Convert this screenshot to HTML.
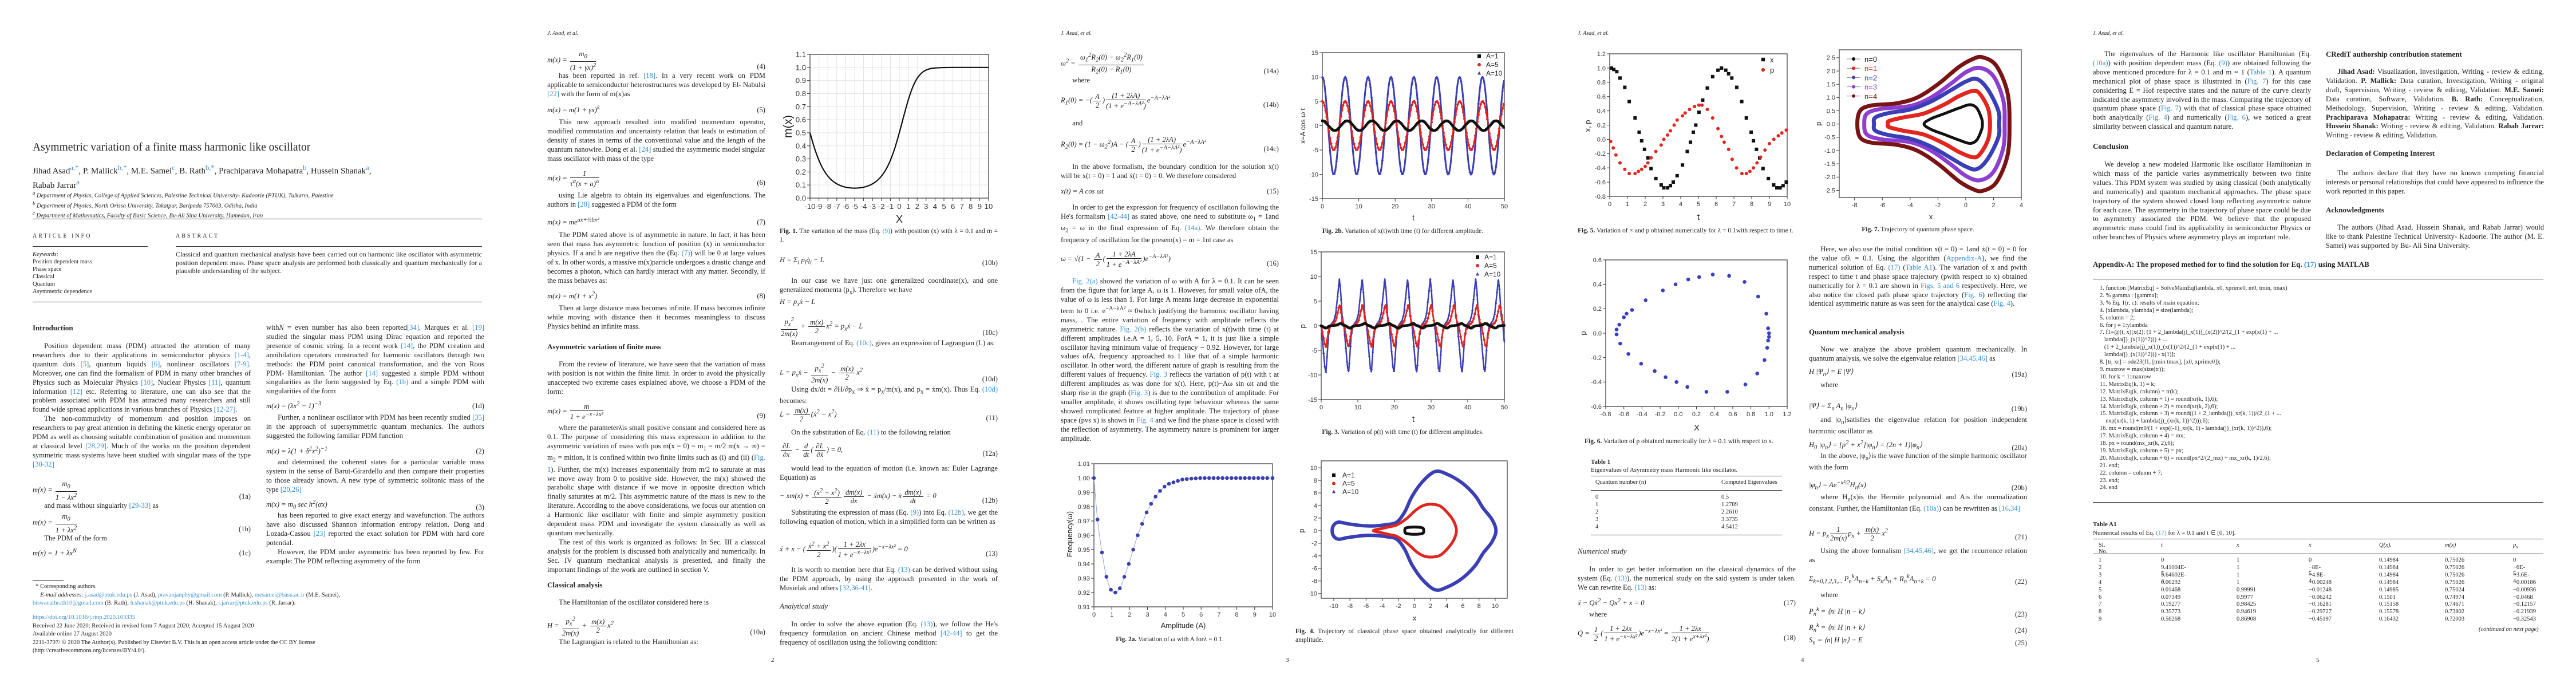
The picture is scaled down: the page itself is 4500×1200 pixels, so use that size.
<!DOCTYPE html>
<html><head><meta charset="utf-8"><title>Asymmetric variation of a finite mass harmonic like oscillator</title>
<style>
html,body{margin:0;padding:0;background:#fff;}
body{width:4500px;height:1200px;position:relative;overflow:hidden;font-family:"Liberation Serif",serif;color:#222;}
.a{position:absolute;}
.c{position:absolute;width:381px;font-size:12.6px;line-height:15.9px;text-align:justify;}
.c p{margin:0;text-indent:1.6em;}
.eq{position:absolute;width:381px;display:flex;justify-content:space-between;align-items:flex-end;font-size:12.6px;line-height:15.9px;font-style:italic;}
.eq .n{font-style:normal;}
.fr{display:inline-flex;flex-direction:column;vertical-align:middle;text-align:center;line-height:14px;margin:0 2px;}
.fr>span:first-child{border-bottom:1px solid #222;padding:0 3px;}
.h{position:absolute;font-weight:bold;font-size:13px;}
.hdr{position:absolute;top:53px;font-style:italic;font-size:10px;}
.cap{position:absolute;font-size:11.5px;line-height:14.5px;width:381px;text-align:justify;}
.lk{color:#3a8fcf;}
.pn{position:absolute;top:1147px;font-size:11px;}
.code{position:absolute;font-size:10.5px;line-height:12.9px;white-space:pre;}
.tb{position:absolute;font-size:10.5px;}
.rule{position:absolute;height:0;border-top:1px solid #333;}
svg text{font-family:"Liberation Sans",sans-serif;}
</style></head><body>

<!-- ============ PAGE 1 ============ -->
<div class="a" style="left:57px;top:247px;font-size:19.5px;">Asymmetric variation of a finite mass harmonic like oscillator</div>
<div class="a" style="left:57px;top:284px;font-size:15px;line-height:19px;width:790px;">Jihad Asad<sup class="lk">a,*</sup>, P. Mallick<sup class="lk">b,*</sup>, M.E. Samei<sup class="lk">c</sup>, B. Rath<sup class="lk">b,*</sup>, Prachiparava Mohapatra<sup class="lk">b</sup>, Hussein Shanak<sup class="lk">a</sup>,<br>Rabab Jarrar<sup class="lk">a</sup></div>
<div class="a" style="left:57px;top:331px;font-size:10.5px;line-height:13px;font-style:italic;">
<sup>a</sup> Department of Physics, College of Applied Sciences, Palestine Technical University- Kadoorie (PTUK), Tulkarm, Palestine<br>
<sup>b</sup> Department of Physics, North Orissa University, Takatpur, Baripada 757003, Odisha, India<br>
<sup>c</sup> Department of Mathematics, Faculty of Basic Science, Bu-Ali Sina University, Hamedan, Iran</div>
<div class="rule" style="left:57px;top:382px;width:785px;border-top-width:1.5px;"></div>
<div class="a" style="left:57px;top:407px;font-size:10px;letter-spacing:3px;">ARTICLE INFO</div>
<div class="a" style="left:307px;top:407px;font-size:10px;letter-spacing:3px;">ABSTRACT</div>
<div class="rule" style="left:57px;top:430px;width:201px;"></div>
<div class="rule" style="left:307px;top:430px;width:535px;"></div>
<div class="a" style="left:57px;top:438px;font-size:10.5px;line-height:13px;"><i>Keywords:</i><br>Position dependent mass<br>Phase space<br>Classical<br>Quantum<br>Asymmetric dependence</div>
<div class="a" style="left:307px;top:437px;width:535px;font-size:12px;line-height:14.5px;text-align:justify;">Classical and quantum mechanical analysis have been carried out on harmonic like oscillator with asymmetric position dependent mass. Phase space analysis are performed both classically and quantum mechanically for a plausible understanding of the subject.</div>
<div class="rule" style="left:57px;top:527px;width:785px;"></div>
<div class="h" style="left:57px;top:565px;">Introduction</div>
<div class="c" style="left:57px;top:597px;"><p>Position dependent mass (PDM) attracted the attention of many researchers due to their applications in semiconductor physics <span class="lk">[1-4]</span>, quantum dots <span class="lk">[5]</span>, quantum liquids <span class="lk">[6]</span>, nonlinear oscillators <span class="lk">[7-9]</span>. Moreover, one can find the formalism of PDM in many other branches of Physics such as Molecular Physics <span class="lk">[10]</span>, Nuclear Physics <span class="lk">[11]</span>, quantum information <span class="lk">[12]</span> etc. Referring to literature, one can also see that the problem associated with PDM has attracted many researchers and still found wide spread applications in various branches of Physics <span class="lk">[12-27]</span>.</p><p>The non-commutivity of momentum and position imposes on researchers to pay great attention in defining the kinetic energy operator on PDM as well as choosing suitable combination of position and momentum at classical level <span class="lk">[28,29]</span>. Much of the works on the position dependent symmetric mass systems have been studied with singular mass of the type <span class="lk">[30-32]</span></p></div>
<div class="eq" style="left:57px;top:838px;"><span>m(x) = <span class="fr"><span>m<sub>0</sub></span><span>1 − λx<sup>2</sup></span></span></span><span class="n">(1a)</span></div>
<div class="c" style="left:57px;top:876px;"><p>and mass without singularity <span class="lk">[29-33]</span> as</p></div>
<div class="eq" style="left:57px;top:895px;"><span>m(x) = <span class="fr"><span>m<sub>0</sub></span><span>1 + λx<sup>2</sup></span></span></span><span class="n">(1b)</span></div>
<div class="c" style="left:57px;top:933px;"><p>The PDM of the form</p></div>
<div class="eq" style="left:57px;top:955px;"><span>m(x) = 1 + λx<sup>N</sup></span><span class="n">(1c)</span></div>
<div class="rule" style="left:57px;top:1013px;width:54px;"></div>
<div class="a" style="left:57px;top:1018px;font-size:10.5px;line-height:14.6px;width:800px;">&nbsp;&nbsp;* Corresponding authors.<br>&nbsp;&nbsp;&nbsp;&nbsp;&nbsp;<i>E-mail addresses:</i> <span class="lk">j.asad@ptuk.edu.ps</span> (J. Asad), <span class="lk">pravanjanphy@gmail.com</span> (P. Mallick), <span class="lk">mesamei@basu.ac.ir</span> (M.E. Samei),<br><span class="lk">biswanathrath10@gmail.com</span> (B. Rath), <span class="lk">h.shanak@ptuk.edu.ps</span> (H. Shanak), <span class="lk">r.jarrar@ptuk.edu.ps</span> (R. Jarrar).</div>
<div class="a" style="left:57px;top:1072px;font-size:10.5px;line-height:14.6px;width:800px;"><span class="lk">https://doi.org/10.1016/j.rinp.2020.103335</span><br>Received 22 June 2020; Received in revised form 7 August 2020; Accepted 15 August 2020<br>Available online 27 August 2020<br>2211-3797/ © 2020 The Author(s). Published by Elsevier B.V. This is an open access article under the CC BY license<br>(http://creativecommons.org/licenses/BY/4.0/).</div>

<div class="c" style="left:465px;top:565px;">with<i>N</i> = even number has also been reported<span class="lk">[34]</span>. Marques et al. <span class="lk">[19]</span> studied the singular mass PDM using Dirac equation and reported the presence of cosmic string. In a recent work <span class="lk">[14]</span>, the PDM creation and annihilation operators constructed for harmonic oscillators through two methods: the PDM point canonical transformation, and the von Roos PDM- Hamiltonian. The author <span class="lk">[14]</span> suggested a simple PDM without singularities as the form suggested by Eq. <span class="lk">(1b)</span> and a simple PDM with singularities of the form</div>
<div class="eq" style="left:465px;top:698px;"><span>m(x) = (λx<sup>2</sup> − 1)<sup>−3</sup></span><span class="n">(1d)</span></div>
<div class="c" style="left:465px;top:722px;"><p>Further, a nonlinear oscillator with PDM has been recently studied <span class="lk">[35]</span> in the approach of supersymmetric quantum mechanics. The authors suggested the following familiar PDM function</p></div>
<div class="eq" style="left:465px;top:777px;"><span>m(x) = λ(1 + δ<sup>2</sup>x<sup>2</sup>)<sup>−1</sup></span><span class="n">(2)</span></div>
<div class="c" style="left:465px;top:800px;"><p>and determined the coherent states for a particular variable mass system in the sense of Barut-Girardello and then compare their properties to those already known. A new type of symmetric solitonic mass of the type <span class="lk">[20,26]</span></p></div>
<div class="eq" style="left:465px;top:870px;"><span>m(x) = m<sub>0</sub> sec h<sup>2</sup>(αx)</span><span class="n">(3)</span></div>
<div class="c" style="left:465px;top:893px;"><p>has been reported to give exact energy and wavefunction. The authors have also discussed Shannon information entropy relation. Dong and Lozada-Cassou <span class="lk">[23]</span> reported the exact solution for PDM with hard core potential.</p><p>However, the PDM under asymmetric has been reported by few. For example: The PDM reflecting asymmetry of the form</p></div>

<!-- ============ PAGE 2 ============ -->
<div class="hdr" style="left:956px;">J. Asad, et al.</div>
<div class="eq" style="left:956px;top:87px;"><span>m(x) = <span class="fr"><span>m<sub>0</sub></span><span>(1 + γx)<sup>2</sup></span></span></span><span class="n">(4)</span></div>
<div class="c" style="left:956px;top:125px;"><p>has been reported in ref. <span class="lk">[18]</span>. In a very recent work on PDM applicable to semiconductor heterostructures was developed by El- Nabulsi <span class="lk">[22]</span> with the form of m(x)as</p></div>
<div class="eq" style="left:956px;top:181px;"><span>m(x) = m(1 + γx)<sup>k</sup></span><span class="n">(5)</span></div>
<div class="c" style="left:956px;top:206px;"><p>This new approach resulted into modified momentum operator, modified commutation and uncertainty relation that leads to estimation of density of states in terms of the conventional value and the length of the quantum nanowire. Dong et al. <span class="lk">[24]</span> studied the asymmetric model singular mass oscillator with mass of the type</p></div>
<div class="eq" style="left:956px;top:296px;"><span>m(x) = <span class="fr"><span>1</span><span>τ<sup>α</sup>(x + a)<sup>α</sup></span></span></span><span class="n">(6)</span></div>
<div class="c" style="left:956px;top:334px;"><p>using Lie algebra to obtain its eigenvalues and eigenfunctions. The authors in <span class="lk">[28]</span> suggested a PDM of the form</p></div>
<div class="eq" style="left:956px;top:377px;"><span>m(x) = me<sup>ax+½bx²</sup></span><span class="n">(7)</span></div>
<div class="c" style="left:956px;top:403px;"><p>The PDM stated above is of asymmetric in nature. In fact, it has been seen that mass has asymmetric function of position (x) in semiconductor physics. If a and b are negative then the (Eq. <span class="lk">(7)</span>) will be 0 at large values of x. In other words, a massive m(x)particle undergoes a drastic change and becomes a photon, which can hardly interact with any matter. Secondly, if the mass behaves as:</p></div>
<div class="eq" style="left:956px;top:506px;"><span>m(x) = m(1 + x<sup>2</sup>)</span><span class="n">(8)</span></div>
<div class="c" style="left:956px;top:531px;"><p>Then at large distance mass becomes infinite. If mass becomes infinite while moving with distance then it becomes meaningless to discuss Physics behind an infinite mass.</p></div>
<div class="h" style="left:956px;top:598px;">Asymmetric variation of finite mass</div>
<div class="c" style="left:956px;top:629px;"><p>From the review of literature, we have seen that the variation of mass with position is not within the finite limit. In order to avoid the physically unaccepted two extreme cases explained above, we choose a PDM of the form:</p></div>
<div class="eq" style="left:956px;top:703px;"><span>m(x) = <span class="fr"><span>m</span><span>1 + e<sup>−x−λx²</sup></span></span></span><span class="n">(9)</span></div>
<div class="c" style="left:956px;top:740px;"><p>where the parameterλis small positive constant and considered here as 0.1. The purpose of considering this mass expression in addition to the asymmetric variation of mass with pos m(x = 0) = m<sub>1</sub> = m/2 m(x → ∞) = m<sub>2</sub> = mition, it is confined within two finite limits such as (i) and (ii) (<span class="lk">Fig. 1</span>). Further, the m(x) increases exponentially from m/2 to saturate at mas we move away from 0 to positive side. However, the m(x) showed the parabolic shape with distance if we move in opposite direction which finally saturates at m/2. This asymmetric nature of the mass is new to the literature. According to the above considerations, we focus our attention on a Harmonic like oscillator with finite and simple asymmetry position dependent mass PDM and investigate the system classically as well as quantum mechanically.</p><p>The rest of this work is organized as follows: In Sec. III a classical analysis for the problem is discussed both analytically and numerically. In Sec. IV quantum mechanical analysis is presented, and finally the important findings of the work are outlined in section V.</p></div>
<div class="h" style="left:956px;top:1014px;">Classical analysis</div>
<div class="c" style="left:956px;top:1045px;"><p>The Hamiltonian of the oscillator considered here is</p></div>
<div class="eq" style="left:956px;top:1075px;"><span>H = <span class="fr"><span>p<sub>x</sub><sup>2</sup></span><span>2m(x)</span></span> + <span class="fr"><span>m(x)</span><span>2</span></span>x<sup>2</sup></span><span class="n">(10a)</span></div>
<div class="c" style="left:956px;top:1114px;"><p>The Lagrangian is related to the Hamiltonian as:</p></div>

<div class="cap" style="left:1362px;top:397px;"><b>Fig. 1.</b> The variation of the mass (Eq. <span class="lk">(9)</span>) with position (x) with λ = 0.1 and m = 1.</div>
<div class="eq" style="left:1362px;top:447px;"><span>H = Σ<sub>i</sub> p<sub>i</sub>q̇<sub>i</sub> − L</span><span class="n">(10b)</span></div>
<div class="c" style="left:1362px;top:483px;"><p>In our case we have just one generalized coordinate(x), and one generalized momenta (p<sub>x</sub>). Therefore we have</p></div>
<div class="eq" style="left:1362px;top:520px;"><span>H = p<sub>x</sub>ẋ − L</span><span></span></div>
<div class="eq" style="left:1362px;top:552px;"><span><span class="fr"><span>p<sub>x</sub><sup>2</sup></span><span>2m(x)</span></span> + <span class="fr"><span>m(x)</span><span>2</span></span>x<sup>2</sup> = p<sub>x</sub>ẋ − L</span><span class="n">(10c)</span></div>
<div class="c" style="left:1362px;top:592px;"><p>Rearrangement of Eq. <span class="lk">(10c)</span>, gives an expression of Lagrangian (L) as:</p></div>
<div class="eq" style="left:1362px;top:633px;"><span>L = p<sub>x</sub>ẋ − <span class="fr"><span>p<sub>x</sub><sup>2</sup></span><span>2m(x)</span></span> − <span class="fr"><span>m(x)</span><span>2</span></span>x<sup>2</sup></span><span class="n">(10d)</span></div>
<div class="c" style="left:1362px;top:673px;"><p>Using dx/dt = ∂H/∂p<sub>x</sub> ⇒ ẋ = p<sub>x</sub>/m(x), and p<sub>x</sub> = ẋm(x). Thus Eq. <span class="lk">(10d)</span> becomes:</p></div>
<div class="eq" style="left:1362px;top:710px;"><span>L = <span class="fr"><span>m(x)</span><span>2</span></span>(ẋ<sup>2</sup> − x<sup>2</sup>)</span><span class="n">(11)</span></div>
<div class="c" style="left:1362px;top:748px;"><p>On the substitution of Eq. <span class="lk">(11)</span> to the following relation</p></div>
<div class="eq" style="left:1362px;top:772px;"><span><span class="fr"><span>∂L</span><span>∂x</span></span> − <span class="fr"><span>d</span><span>dt</span></span>(<span class="fr"><span>∂L</span><span>∂ẋ</span></span>) = 0,</span><span class="n">(12a)</span></div>
<div class="c" style="left:1362px;top:811px;"><p>would lead to the equation of motion (i.e. known as: Euler Lagrange Equation) as</p></div>
<div class="eq" style="left:1362px;top:851px;"><span>− xm(x) + <span class="fr"><span>(ẋ<sup>2</sup> − x<sup>2</sup>)</span><span>2</span></span><span class="fr"><span>dm(x)</span><span>dx</span></span> − ẍm(x) − ẋ<span class="fr"><span>dm(x)</span><span>dt</span></span> = 0</span><span class="n">(12b)</span></div>
<div class="c" style="left:1362px;top:888px;"><p>Substituting the expression of mass (Eq. <span class="lk">(9)</span>) into Eq. <span class="lk">(12b)</span>, we get the following equation of motion, which in a simplified form can be written as</p></div>
<div class="eq" style="left:1362px;top:944px;"><span>ẍ + x − (<span class="fr"><span>ẋ<sup>2</sup> + x<sup>2</sup></span><span>2</span></span>)(<span class="fr"><span>1 + 2λx</span><span>1 + e<sup>−x−λx²</sup></span></span>)e<sup>−x−λx²</sup> = 0</span><span class="n">(13)</span></div>
<div class="c" style="left:1362px;top:988px;"><p>It is worth to mention here that Eq. <span class="lk">(13)</span> can be derived without using the PDM approach, by using the approach presented in the work of Musielak and others <span class="lk">[32,36-41]</span>.</p></div>
<div class="a" style="left:1362px;top:1051px;font-style:italic;font-size:13px;">Analytical study</div>
<div class="c" style="left:1362px;top:1083px;"><p>In order to solve the above equation (Eq. <span class="lk">(13)</span>), we follow the He's frequency formulation on ancient Chinese method <span class="lk">[42-44]</span> to get the frequency of oscillation using the following condition:</p></div>
<div class="pn" style="left:1347px;">2</div>

<!-- ============ PAGE 3 ============ -->
<div class="hdr" style="left:1853px;">J. Asad, et al.</div>
<div class="eq" style="left:1853px;top:90px;"><span>ω<sup>2</sup> = <span class="fr"><span>ω<sub>1</sub><sup>2</sup>R<sub>2</sub>(0) − ω<sub>2</sub><sup>2</sup>R<sub>1</sub>(0)</span><span>R<sub>2</sub>(0) − R<sub>1</sub>(0)</span></span></span><span class="n">(14a)</span></div>
<div class="c" style="left:1853px;top:133px;"><p>where</p></div>
<div class="eq" style="left:1853px;top:160px;"><span>R<sub>1</sub>(0) = −(<span class="fr"><span>A</span><span>2</span></span>)<span class="fr"><span>(1 + 2λA)</span><span>(1 + e<sup>−A−λA²</sup>)</span></span>e<sup>−A−λA²</sup></span><span class="n">(14b)</span></div>
<div class="c" style="left:1853px;top:208px;"><p>and</p></div>
<div class="eq" style="left:1853px;top:237px;"><span>R<sub>2</sub>(0) = (1 − ω<sub>2</sub><sup>2</sup>)A − (<span class="fr"><span>A</span><span>2</span></span>)<span class="fr"><span>(1 + 2λA)</span><span>(1 + e<sup>−A−λA²</sup>)</span></span>e<sup>−A−λA²</sup></span><span class="n">(14c)</span></div>
<div class="c" style="left:1853px;top:284px;"><p>In the above formalism, the boundary condition for the solution x(t) will be x(t = 0) = 1 and ẋ(t = 0) = 0. We therefore considered</p></div>
<div class="eq" style="left:1853px;top:327px;"><span>x(t) = A cos ωt</span><span class="n">(15)</span></div>
<div class="c" style="left:1853px;top:355px;"><p>In order to get the expression for frequency of oscillation following the He's formalism <span class="lk">[42-44]</span> as stated above, one need to substitute ω<sub>1</sub> = 1and ω<sub>2</sub> = ω in the final expression of Eq. <span class="lk">(14a)</span>. We therefore obtain the frequency of oscillation for the presem(x) = m = 1nt case as</p></div>
<div class="eq" style="left:1853px;top:437px;"><span>ω = √(1 − <span class="fr"><span>A</span><span>2</span></span>(<span class="fr"><span>1 + 2λA</span><span>1 + e<sup>−A−λA²</sup></span></span>)e<sup>−A−λA²</sup>)</span><span class="n">(16)</span></div>
<div class="c" style="left:1853px;top:484px;"><p><span class="lk">Fig. 2(a)</span> showed the variation of ω with A for λ = 0.1. It can be seen from the figure that for large A, ω is 1. However, for small value ofA, the value of ω is less than 1. For large A means large decrease in exponential term to 0 i.e. e<sup>−A−λA²</sup> ≈ 0which justifying the harmonic oscillator having mass, . The entire variation of frequency with amplitude reflects the asymmetric nature. <span class="lk">Fig. 2(b)</span> reflects the variation of x(t)with time (t) at different amplitudes i.e.A = 1, 5, 10. ForA = 1, it is just like a simple oscillator having minimum value of frequency ~ 0.92. However, for large values ofA, frequency approached to 1 like that of a simple harmonic oscillator. In other word, the different nature of graph is resulting from the different values of frequency. <span class="lk">Fig. 3</span> reflects the variation of p(t) with t at different amplitudes as was done for x(t). Here, p(t)~Aω sin ωt and the sharp rise in the graph (<span class="lk">Fig. 3</span>) is due to the contribution of amplitude. For smaller amplitude, it shows oscillating type behaviour whereas the same showed complicated feature at higher amplitude. The trajectory of phase space (pvs x) is shown in <span class="lk">Fig. 4</span> and we find the phase space is closed with the reflection of asymmetry. The asymmetry nature is prominent for larger amplitude.</p></div>
<div class="cap" style="left:1853px;top:1110px;text-align:center;"><b>Fig. 2a.</b> Variation of ω with A forλ = 0.1.</div>
<div class="cap" style="left:2260px;top:397px;text-align:center;"><b>Fig. 2b.</b> Variation of x(t)with time (t) for different amplitude.</div>
<div class="cap" style="left:2260px;top:748px;text-align:center;"><b>Fig. 3.</b> Variation of p(t) with time (t) for different amplitudes.</div>
<div class="cap" style="left:2263px;top:1096px;"><b>Fig. 4.</b> Trajectory of classical phase space obtained analytically for different amplitude.</div>
<div class="pn" style="left:2246px;">3</div>

<!-- ============ PAGE 4 ============ -->
<div class="hdr" style="left:2756px;">J. Asad, et al.</div>
<div class="cap" style="left:2756px;top:396px;"><b>Fig. 5.</b> Variation of × and p obtained numerically for λ = 0.1with respect to time t.</div>
<div class="cap" style="left:2768px;top:764px;"><b>Fig. 6.</b> Variation of p obtained numerically for λ = 0.1 with respect to x.</div>
<div class="a" style="left:2779px;top:800px;font-size:11px;line-height:14px;"><b>Table 1</b><br>Eigenvalues of Asymmetry mass Harmonic like oscillator.</div>
<div class="rule" style="left:2779px;top:831px;width:334px;border-top-width:1.5px;"></div>
<div class="tb" style="left:2787px;top:837px;">Quantum number (n)</div>
<div class="tb" style="left:3007px;top:837px;">Computed Eigenvalues</div>
<div class="rule" style="left:2779px;top:856px;width:334px;"></div>
<div class="tb" style="left:2787px;top:862px;line-height:13px;">0<br>1<br>2<br>3<br>4</div>
<div class="tb" style="left:3007px;top:862px;line-height:13px;">0.5<br>1.2789<br>2.2610<br>3.3735<br>4.5412</div>
<div class="rule" style="left:2779px;top:934px;width:334px;"></div>
<div class="a" style="left:2756px;top:955px;font-style:italic;font-size:13px;">Numerical study</div>
<div class="c" style="left:2756px;top:987px;"><p>In order to get better information on the classical dynamics of the system (Eq. <span class="lk">(13)</span>), the numerical study on the said system is under taken. We can rewrite Eq. <span class="lk">(13)</span> as:</p></div>
<div class="eq" style="left:2756px;top:1042px;"><span>ẍ − Qẋ<sup>2</sup> − Qx<sup>2</sup> + x = 0</span><span class="n">(17)</span></div>
<div class="c" style="left:2756px;top:1066px;"><p>where</p></div>
<div class="eq" style="left:2756px;top:1091px;"><span>Q = <span class="fr"><span>1</span><span>2</span></span>(<span class="fr"><span>1 + 2λx</span><span>1 + e<sup>−x−λx²</sup></span></span>)e<sup>−x−λx²</sup> = <span class="fr"><span>1 + 2λx</span><span>2(1 + e<sup>x+λx²</sup>)</span></span></span><span class="n">(18)</span></div>
<div class="cap" style="left:3160px;top:394px;text-align:center;"><b>Fig. 7.</b> Trajectory of quantum phase space.</div>
<div class="c" style="left:3160px;top:428px;"><p>Here, we also use the initial condition x(t = 0) = 1and ẋ(t = 0) = 0 for the value ofλ = 0.1. Using the algorithm (<span class="lk">Appendix-A</span>), we find the numerical solution of Eq. <span class="lk">(17)</span> (<span class="lk">Table A1</span>). The variation of x and pwith respect to time t and phase space trajectory (pwith respect to x) obtained numerically for λ = 0.1 are shown in <span class="lk">Figs. 5 and 6</span> respectively. Here, we also notice the closed path phase space trajectory (<span class="lk">Fig. 6</span>) reflecting the identical asymmetric nature as was seen for the analytical case (<span class="lk">Fig. 4</span>).</p></div>
<div class="h" style="left:3160px;top:572px;">Quantum mechanical analysis</div>
<div class="c" style="left:3160px;top:603px;"><p>Now we analyze the above problem quantum mechanically. In quantum analysis, we solve the eigenvalue relation <span class="lk">[34,45,46]</span> as</p></div>
<div class="eq" style="left:3160px;top:642px;"><span>H |Ψ<sub>n</sub>⟩ = E |Ψ⟩</span><span class="n">(19a)</span></div>
<div class="c" style="left:3160px;top:665px;"><p>where</p></div>
<div class="eq" style="left:3160px;top:702px;"><span>|Ψ⟩ = Σ<sub>n</sub> A<sub>n</sub> |φ<sub>n</sub>⟩</span><span class="n">(19b)</span></div>
<div class="c" style="left:3160px;top:726px;"><p>and |φ<sub>n</sub>⟩satisfies the eigenvalue relation for position independent harmonic oscillator as</p></div>
<div class="eq" style="left:3160px;top:766px;"><span>H<sub>0</sub> |φ<sub>n</sub>⟩ = [p<sup>2</sup> + x<sup>2</sup>]|φ<sub>n</sub>⟩ = (2n + 1)|φ<sub>n</sub>⟩</span><span class="n">(20a)</span></div>
<div class="c" style="left:3160px;top:789px;"><p>In the above, |φ<sub>n</sub>⟩is the wave function of the simple harmonic oscillator with the form</p></div>
<div class="eq" style="left:3160px;top:836px;"><span>|φ<sub>n</sub>⟩ = Ae<sup>−x²/2</sup>H<sub>n</sub>(x)</span><span class="n">(20b)</span></div>
<div class="c" style="left:3160px;top:861px;"><p>where H<sub>n</sub>(x)is the Hermite polynomial and Ais the normalization constant. Further, the Hamiltonian (Eq. <span class="lk">(10a)</span>) can be rewritten as <span class="lk">[16,34]</span></p></div>
<div class="eq" style="left:3160px;top:918px;"><span>H = p<sub>x</sub><span class="fr"><span>1</span><span>2m(x)</span></span>p<sub>x</sub> + <span class="fr"><span>m(x)</span><span>2</span></span>x<sup>2</sup></span><span class="n">(21)</span></div>
<div class="c" style="left:3160px;top:955px;"><p>Using the above formalism <span class="lk">[34,45,46]</span>, we get the recurrence relation as</p></div>
<div class="eq" style="left:3160px;top:1000px;"><span>Σ<sub>k=0,1,2,3,...</sub> P<sub>n</sub><sup>k</sup>A<sub>n−k</sub> + S<sub>n</sub>A<sub>n</sub> + R<sub>n</sub><sup>k</sup>A<sub>n+k</sub> = 0</span><span class="n">(22)</span></div>
<div class="c" style="left:3160px;top:1032px;"><p>where</p></div>
<div class="eq" style="left:3160px;top:1057px;"><span>P<sub>n</sub><sup>k</sup> = ⟨n| H |n − k⟩</span><span class="n">(23)</span></div>
<div class="eq" style="left:3160px;top:1085px;"><span>R<sub>n</sub><sup>k</sup> = ⟨n| H |n + k⟩</span><span class="n">(24)</span></div>
<div class="eq" style="left:3160px;top:1111px;"><span>S<sub>n</sub> = ⟨n| H |n⟩ − E</span><span class="n">(25)</span></div>
<div class="pn" style="left:3146px;">4</div>

<!-- ============ PAGE 5 ============ -->
<div class="hdr" style="left:3656px;">J. Asad, et al.</div>
<div class="c" style="left:3656px;top:87px;"><p>The eigenvalues of the Harmonic like oscillator Hamiltonian (Eq. <span class="lk">(10a)</span>) with position dependent mass (Eq. <span class="lk">(9)</span>) are obtained following the above mentioned procedure for λ = 0.1 and m = 1 (<span class="lk">Table 1</span>). A quantum mechanical plot of phase space is illustrated in (<span class="lk">Fig. 7</span>) for this case considering E = Hof respective states and the nature of the curve clearly indicated the asymmetry involved in the mass. Comparing the trajectory of quantum phase space (<span class="lk">Fig. 7</span>) with that of classical phase space obtained both analytically (<span class="lk">Fig. 4</span>) and numerically (<span class="lk">Fig. 6</span>), we noticed a great similarity between classical and quantum nature.</p></div>
<div class="h" style="left:3656px;top:248px;">Conclusion</div>
<div class="c" style="left:3656px;top:280px;"><p>We develop a new modeled Harmonic like oscillator Hamiltonian in which mass of the particle varies asymmetrically between two finite values. This PDM system was studied by using classical (both analytically and numerically) and quantum mechanical approaches. The phase space trajectory of the system showed closed loop reflecting asymmetric nature for each case. The asymmetry in the trajectory of phase space could be due to asymmetry associated the PDM. We believe that the proposed asymmetric mass could find its applicability in semiconductor Physics or other branches of Physics where asymmetry plays an important role.</p></div>
<div class="h" style="left:4063px;top:87px;">CRediT authorship contribution statement</div>
<div class="c" style="left:4063px;top:118px;"><p><b>Jihad Asad:</b> Visualization, Investigation, Writing - review &amp; editing, Validation. <b>P. Mallick:</b> Data curation, Investigation, Writing - original draft, Supervision, Writing - review &amp; editing, Validation. <b>M.E. Samei:</b> Data curation, Software, Validation. <b>B. Rath:</b> Conceptualization, Methodology, Supervision, Writing - review &amp; editing, Validation. <b>Prachiparava Mohapatra:</b> Writing - review &amp; editing, Validation. <b>Hussein Shanak:</b> Writing - review &amp; editing, Validation. <b>Rabab Jarrar:</b> Writing - review &amp; editing, Validation.</p></div>
<div class="h" style="left:4063px;top:260px;">Declaration of Competing Interest</div>
<div class="c" style="left:4063px;top:295px;"><p>The authors declare that they have no known competing financial interests or personal relationships that could have appeared to influence the work reported in this paper.</p></div>
<div class="h" style="left:4063px;top:359px;">Acknowledgments</div>
<div class="c" style="left:4063px;top:390px;"><p>The authors (Jihad Asad, Hussein Shanak, and Rabab Jarrar) would like to thank Palestine Technical University- Kadoorie. The author (M. E. Samei) was supported by Bu- Ali Sina University.</p></div>
<div class="h" style="left:3656px;top:454px;">Appendix-A: The proposed method for to find the solution for Eq. <span class="lk">(17)</span> using MATLAB</div>
<div class="rule" style="left:3656px;top:487px;width:787px;border-top-width:1.5px;"></div>
<div class="code" style="left:3668px;top:498px;">1. function [MatrixEq] = SolveMainEq(lambda, x0, xprime0, m0, tmin, tmax)
2. % gamma : [gamma];
3. % Eq. 1(r, c): results of main equation;
4. [xlambda, ylambda] = size(lambda);
5. column = 2;
6. for j = 1:ylambda
7. f1=@(t, x)[x(2); (1 + 2_lambda(j)_x(1))_(x(2))^2/(2_(1 + exp(x(1) + ...
   lambda(j)_(x(1))^2))) + ...
   (1 + 2_lambda(j)_x(1))_(x(1))^2/(2_(1 + exp(x(1) + ...
   lambda(j)_(x(1))^2))) - x(1)];
8. [tr, xr] = ode23(f1, [tmin tmax], [x0, xprime0]);
9. maxrow = max(size(tr));
10. for k = 1:maxrow
11. MatrixEq(k, 1) = k;
12. MatrixEq(k, column) = tr(k);
13. MatrixEq(k, column + 1) = round(xr(k, 1),6);
14. MatrixEq(k, column + 2) = round(xr(k, 2),6);
15. MatrixEq(k, column + 3) = round((1 + 2_lambda(j)_xr(k, 1))/(2_(1 + ...
    exp(xr(k, 1) + lambda(j)_(xr(k, 1))^2))),6);
16. mx = round(m0/(1 + exp((-1)_xr(k, 1) - lambda(j)_(xr(k, 1))^2)),6);
17. MatrixEq(k, column + 4) = mx;
18. px = round(mx_xr(k, 2),6);
19. MatrixEq(k, column + 5) = px;
20. MatrixEq(k, column + 6) = round(px^2/(2_mx) + mx_xr(k, 1)/2,6);
21. end;
22. column = column + 7;
23. end;
24. end</div>
<div class="rule" style="left:3656px;top:877px;width:787px;"></div>
<div class="a" style="left:3656px;top:909px;font-size:11px;line-height:15px;"><b>Table A1</b><br>Numerical results of Eq. <span class="lk">(17)</span> for λ = 0.1 and t ∈ [0, 10].</div>
<div class="rule" style="left:3656px;top:941px;width:787px;border-top-width:1.5px;"></div>
<div id="tableA1" class="a" style="left:0;top:0;"></div>
<div class="rule" style="left:3656px;top:967px;width:787px;border-top-width:1.5px;"></div>
<div class="a" style="left:4330px;top:1094px;font-size:10.5px;font-style:italic;">(continued on next page)</div>
<div class="pn" style="left:4046px;">5</div>

<svg id="charts" width="4500" height="1200" style="position:absolute;left:0;top:0;" xmlns="http://www.w3.org/2000/svg"></svg>

<script>
// ---------------- Chart data ----------------
// Fig 1: mass vs position
const fig1X = [-10,-9.5,-9,-8.5,-8,-7.5,-7,-6.5,-6,-5.5,-5,-4.5,-4,-3.5,-3,-2.5,-2,-1.5,-1,-0.5,0,0.5,1,1.5,2,2.5,3,3.5,4,5,6,7,8,9,10];
const fig1M = [0.5,0.383,0.289,0.218,0.168,0.133,0.109,0.093,0.083,0.078,0.076,0.078,0.083,0.093,0.109,0.133,0.168,0.218,0.289,0.383,0.5,0.628,0.750,0.849,0.917,0.958,0.980,0.991,0.996,0.999,1.0,1.0,1.0,1.0,1.0];
const fig1XTicks = [-10,-9,-8,-7,-6,-5,-4,-3,-2,-1,0,1,2,3,4,5,6,7,8,9,10];
const fig1YTicks = [0,0.1,0.2,0.3,0.4,0.5,0.6,0.7,0.8,0.9,1.0,1.1];
// Fig 2a: frequency vs amplitude
const fig2aA = [0,0.2,0.45,0.7,0.95,1.2,1.45,1.7,1.95,2.2,2.45,2.7,2.95,3.2,3.45,3.7,3.95,4.2,4.45,4.7,4.95,5.2,5.45,5.7,5.95,6.2,6.45,6.7,6.95,7.2,7.45,7.7,7.95,8.2,8.45,8.7,8.95,9.2,9.45,9.7,10];
const fig2aW = [1.0,0.971,0.948,0.931,0.922,0.920,0.923,0.931,0.940,0.950,0.960,0.968,0.976,0.982,0.987,0.991,0.994,0.996,0.997,0.998,0.999,0.9993,0.9996,0.9998,1.0,1.0,1.0,1.0,1.0,1.0,1.0,1.0,1.0,1.0,1.0,1.0,1.0,1.0,1.0,1.0,1.0];
const fig2aXTicks = [0,1,2,3,4,5,6,7,8,9,10];
const fig2aYTicks = [0.91,0.92,0.93,0.94,0.95,0.96,0.97,0.98,0.99,1.00,1.01];
// Fig 2b: x(t)=A cos(wt)
const fig2bLabels = ['A=1','A=5','A=10'];
const fig2bAmp = [1,5,10];
const fig2bOmega = [0.922,0.9995,1.0];
const fig2bXTicks = [0,10,20,30,40,50];
const fig2bYTicks = [-15,-10,-5,0,5,10,15];
// Fig 3: p(t) shape over one period (normalized), peaks per amplitude
const fig3Labels = ['A=1','A=5','A=10'];
const fig3Period = [6.6,6.25,6.2];
const fig3Peak = [0.5,4.3,9.5];
const fig3Trough = [-0.5,-4.3,-9.4];
const fig3Phase = [0,0.08,0.16,0.21,0.26,0.32,0.40,0.48,0.56,0.64,0.72,0.80,0.855,0.92,1.0];
const fig3Shape = [0,-0.45,-0.9,-1.0,-0.65,-0.22,0.0,0.06,0.11,0.26,0.62,1.0,0.75,0.22,0];
const fig3XTicks = [0,10,20,30,40,50];
const fig3YTicks = [-15,-10,-5,0,5,10,15];
// Fig 4: classical phase space, upper halves (x, p)
const fig4Labels = ['A=1','A=5','A=10'];
const fig4A10X = [-10.2,-10.0,-9.4,-8.3,-6.5,-5,-3.5,-2.2,-1.2,-0.3,1,2.55,4,5.9,7.5,8.5,9.6,10.1];
const fig4A10P = [0,0.9,1.36,1.1,0.8,0.76,0.95,1.36,3.0,5.45,7.8,9.4,9.0,7.6,5.6,3.6,1.8,0];
const fig4A5X = [-5.1,-4,-3,-2.2,-1,0.2,1.1,2.1,3.2,4.2,4.9,5.2];
const fig4A5P = [0,0.35,0.65,0.9,1.9,3.3,4.0,4.2,3.9,2.7,1.4,0];
const fig4A1X = [-1.2,-1.1,-0.5,0.5,1.05,1.15];
const fig4A1P = [0,0.4,0.55,0.55,0.4,0];
const fig4Ticks = [-10,-8,-6,-4,-2,0,2,4,6,8,10];
// Fig 5: x and p vs t (numerical)
const fig5Tx = [0.1,0.23,0.4,0.58,0.85,1.1,1.43,1.66,1.8,1.96,2.15,2.33,2.6,2.9,3.05,3.26,3.42,3.58,3.8,4.1,4.37,4.55,4.71,4.85,5.03,5.24,5.5,5.8,6.1,6.3,6.54,6.7,6.88,7.16,7.44,7.7,7.97,8.1,8.27,8.45,8.64,8.94,9.24,9.42,9.6,9.77,9.95];
const fig5X = [1.0,0.98,0.95,0.86,0.73,0.53,0.3,0.1,-0.02,-0.14,-0.26,-0.41,-0.55,-0.64,-0.68,-0.68,-0.65,-0.6,-0.51,-0.36,-0.17,-0.04,0.1,0.2,0.38,0.55,0.72,0.88,0.97,1.0,0.97,0.92,0.86,0.73,0.53,0.3,0.1,-0.02,-0.14,-0.26,-0.41,-0.55,-0.64,-0.68,-0.68,-0.65,-0.6];
const fig5Tp = [0.05,0.2,0.35,0.58,0.85,1.1,1.43,1.62,1.8,2.0,2.15,2.33,2.6,2.9,3.05,3.26,3.42,3.63,3.8,4.1,4.25,4.5,4.78,5.03,5.2,5.5,5.8,6.1,6.3,6.45,6.7,6.9,7.15,7.45,7.7,7.9,8.1,8.3,8.5,8.75,9.0,9.25,9.5,9.7,9.95];
const fig5P = [-0.03,-0.12,-0.22,-0.33,-0.42,-0.48,-0.48,-0.45,-0.42,-0.38,-0.33,-0.26,-0.17,-0.08,0.0,0.06,0.12,0.2,0.27,0.33,0.37,0.42,0.46,0.48,0.48,0.42,0.3,0.15,0.04,-0.04,-0.14,-0.28,-0.4,-0.48,-0.48,-0.45,-0.4,-0.33,-0.25,-0.15,-0.06,0.0,0.05,0.09,0.13];
const fig5XTicks = [0,1,2,3,4,5,6,7,8,9,10];
const fig5YTicks = [-0.8,-0.6,-0.4,-0.2,0.0,0.2,0.4,0.6,0.8,1.0,1.2];
// Fig 6: p vs x (numerical)
const fig6X = [-0.68,-0.68,-0.65,-0.6,-0.57,-0.51,-0.36,-0.17,-0.03,0.11,0.23,0.38,0.56,0.73,0.88,0.97,0.99,1.0,1.0,0.99,0.98,0.95,0.87,0.74,0.54,0.31,0.10,-0.02,-0.14,-0.26,-0.41,-0.55,-0.64];
const fig6P = [-0.01,0.03,0.07,0.13,0.16,0.19,0.27,0.35,0.40,0.44,0.46,0.48,0.47,0.42,0.30,0.16,0.04,0.0,-0.03,-0.06,-0.12,-0.22,-0.33,-0.42,-0.48,-0.48,-0.44,-0.40,-0.36,-0.31,-0.25,-0.17,-0.085];
const fig6XTicks = [-0.8,-0.6,-0.4,-0.2,0.0,0.2,0.4,0.6,0.8,1.0,1.2];
const fig6YTicks = [-0.6,-0.4,-0.2,0.0,0.2,0.4,0.6];
// Fig 7: quantum phase space, upper halves (x, p)
const fig7Labels = ['n=0','n=1','n=2','n=3','n=4'];
const fig7N0X = [-3.0,-2.5,-1.5,-0.5,0.3,0.8,1.15,1.2];
const fig7N0P = [0,0.2,0.4,0.6,0.73,0.6,0.2,0];
const fig7N1X = [-5.6,-5.5,-4.5,-3,-1.5,-0.5,0.5,1.0,1.6,1.75];
const fig7N1P = [0,0.12,0.25,0.4,0.75,1.05,1.25,1.15,0.6,0];
const fig7N2X = [-6.6,-6.5,-5.5,-4,-2.5,-1,0,0.8,1.6,2.35,2.4];
const fig7N2P = [0,0.25,0.42,0.55,0.85,1.3,1.6,1.7,1.3,0.5,0];
const fig7N3X = [-7.3,-7.1,-6,-4,-2.5,-1,0,1,2,2.7,2.8];
const fig7N3P = [0,0.4,0.58,0.68,1.0,1.55,1.95,2.12,1.8,0.9,0];
const fig7N4X = [-7.8,-7.6,-6.8,-5,-3.5,-2,-0.5,0.5,1.2,2.2,3.0,3.15];
const fig7N4P = [0,0.5,0.7,0.78,1.0,1.5,2.15,2.45,2.52,2.2,1.2,0];
const fig7XTicks = [-8,-6,-4,-2,0,2,4];
const fig7YTicks = [-2.5,-2.0,-1.5,-1.0,-0.5,0.0,0.5,1.0,1.5,2.0,2.5];
// Table A1
const tableA1Header = ['Sl. No.','t','x','ẋ','Q(x).','m(x)','p<sub>x</sub>'];
const tableA1Rows = [
 ['1','0','1','0','0.14984','0.75026','0'],
 ['2','9.41004E-5','1','−8E-5','0.14984','0.75026','−6E-5'],
 ['3','5.64602E-4','1','−4.8E-4','0.14984','0.75026','−3.6E-4'],
 ['4','0.00292','1','−0.00248','0.14984','0.75026','−0.00186'],
 ['5','0.01468','0.99991','−0.01248','0.14985','0.75024','−0.00936'],
 ['6','0.07349','0.9977','−0.06242','0.1501','0.74974','−0.0468'],
 ['7','0.19277','0.98425','−0.16281','0.15158','0.74671','−0.12157'],
 ['8','0.35773','0.94619','−0.29727','0.15578','0.73802','−0.21939'],
 ['9','0.56268','0.86908','−0.45197','0.16432','0.72003','−0.32543']];

// ---------------- helpers ----------------
const NS='http://www.w3.org/2000/svg';
const svg=document.getElementById('charts');
function mk(tag, attrs, parent){const e=document.createElementNS(NS,tag);for(const k in attrs)e.setAttribute(k,attrs[k]);(parent||svg).appendChild(e);return e;}
function smooth(pts, closed){
  const n=pts.length; if(n<2) return '';
  let d='M'+pts[0][0].toFixed(2)+','+pts[0][1].toFixed(2);
  const segs=closed?n:n-1;
  for(let i=0;i<segs;i++){
    const p1=pts[i], p2=pts[(i+1)%n];
    const p0=closed?pts[(i-1+n)%n]:(i>0?pts[i-1]:p1);
    const p3=closed?pts[(i+2)%n]:(i+2<n?pts[i+2]:p2);
    const c1=[p1[0]+(p2[0]-p0[0])/6,p1[1]+(p2[1]-p0[1])/6];
    const c2=[p2[0]-(p3[0]-p1[0])/6,p2[1]-(p3[1]-p1[1])/6];
    d+='C'+c1[0].toFixed(2)+','+c1[1].toFixed(2)+' '+c2[0].toFixed(2)+','+c2[1].toFixed(2)+' '+p2[0].toFixed(2)+','+p2[1].toFixed(2);
  }
  return d+(closed?'Z':'');
}
function loop(xs, ps){
  const up=xs.map((x,i)=>[x,ps[i]]);
  const low=up.slice(1,-1).reverse().map(q=>[q[0],-q[1]]);
  return up.concat(low);
}
function chart(name, box, xd, yd, xt, yt, xf, yf, fs, grid){
  const g=mk('g',{});
  
  
  const sx=v=>box.x+(v-xd[0])/(xd[1]-xd[0])*box.w;
  const sy=v=>box.y+box.h-(v-yd[0])/(yd[1]-yd[0])*box.h;
  if(grid){
    xt.forEach(v=>{const l=mk('line',{x1:sx(v),x2:sx(v),y1:box.y,y2:box.y+box.h,stroke:'#e4e4e4','stroke-width':1},g);
      });
    yt.forEach(v=>{const l=mk('line',{x1:box.x,x2:box.x+box.w,y1:sy(v),y2:sy(v),stroke:'#e4e4e4','stroke-width':1},g);
      });
  }
  const fr=mk('rect',{x:box.x,y:box.y,width:box.w,height:box.h,fill:'none',stroke:'#333','stroke-width':1.2},g);
  
  xt.forEach(v=>{
    const l=mk('line',{x1:sx(v),x2:sx(v),y1:box.y+box.h,y2:box.y+box.h+5,stroke:'#333','stroke-width':1},g);
    
    const t=mk('text',{x:sx(v),y:box.y+box.h+6+fs,'font-size':fs,'text-anchor':'middle',fill:'#333'},g);
    
    t.textContent=xf(v);
  });
  yt.forEach(v=>{
    const l=mk('line',{x1:box.x-5,x2:box.x,y1:sy(v),y2:sy(v),stroke:'#333','stroke-width':1},g);
    
    const t=mk('text',{x:box.x-7,y:sy(v)+fs*0.35,'font-size':fs,'text-anchor':'end',fill:'#333'},g);
    
    t.textContent=yf(v);
  });
  return {g,sx,sy};
}
function axisTitle(g, txt, x, y, size, rot, name){
  const t=mk('text',{x:x,y:y,'font-size':size,'text-anchor':'middle',fill:'#222',transform:rot?('rotate(-90 '+x+' '+y+')'):''},g);
  
  t.textContent=txt;
  return t;
}
function marker(g, type, x, y, s, color){
  let e;
  if(type==='sq') e=mk('rect',{x:x-s,y:y-s,width:2*s,height:2*s,fill:color},g);
  else if(type==='tri') e=mk('path',{d:'M'+x+','+(y-s*1.2)+'L'+(x+s)+','+(y+s*0.8)+'L'+(x-s)+','+(y+s*0.8)+'Z',fill:color},g);
  else e=mk('circle',{cx:x,cy:y,r:s,fill:color},g);
  return e;
}
const f1=v=>v.toFixed(1), f0=v=>String(v), f2=v=>v.toFixed(2);

// ---------------- Fig 1 ----------------
(function(){
  const c=chart('figure-1-mass-chart',{x:1415,y:95,w:312,h:251},[-10,10],[0,1.1],fig1XTicks,fig1YTicks,f0,f1,13,true);
  const pts=fig1X.map((x,i)=>[c.sx(x),c.sy(fig1M[i])]);
  const p=mk('path',{d:smooth(pts,false),fill:'none',stroke:'#111','stroke-width':2.2},c.g);
  
  axisTitle(c.g,'m(x)',1383,221,20,true,'y-axis-title');
  axisTitle(c.g,'X',1571,389,18,false,'x-axis-title');
})();

// ---------------- Fig 2a ----------------
(function(){
  const c=chart('figure-2a-frequency-chart',{x:1911,y:810,w:312,h:250},[0,10],[0.91,1.01],fig2aXTicks,fig2aYTicks,f0,f2,11,false);
  const pts=fig2aA.map((a,i)=>[c.sx(a),c.sy(fig2aW[i])]);
  const ln=mk('path',{d:smooth(pts,false),fill:'none',stroke:'#9aa0e0','stroke-width':1},c.g);
  
  pts.forEach(q=>{const m=marker(c.g,'c',q[0],q[1],3.3,'#3a3fb0'); });
  axisTitle(c.g,'Frequency(ω)',1873,933,13,true,'y-axis-title');
  axisTitle(c.g,'Amplitude (A)',2067,1097,13,false,'x-axis-title');
})();

// ---------------- Fig 2b ----------------
(function(){
  const c=chart('figure-2b-position-chart',{x:2310,y:92,w:318,h:255},[0,50],[-15,15],fig2bXTicks,fig2bYTicks,f0,f0,11,false);
  const colors=['#111','#e0261f','#3b3fb5'], types=['sq','c','tri'];
  for(let s=2;s>=0;s--){
    const pts=[];
    for(let t=0;t<=50;t+=0.1) pts.push([c.sx(t),c.sy(fig2bAmp[s]*Math.cos(fig2bOmega[s]*t))]);
    const p=mk('path',{d:smooth(pts,false),fill:'none',stroke:colors[s],'stroke-width':s===2?3:2.5},c.g);
    
    for(let i=0;i<pts.length;i+=3){const m=marker(c.g,types[s],pts[i][0],pts[i][1],2.2,colors[s]); }
  }
  fig2bLabels.forEach((lb,i)=>{
    const m=marker(c.g,types[i],2584,98+i*15,3,colors[i]); 
    const t=mk('text',{x:2596,y:102+i*15,'font-size':12,fill:'#222'},c.g);  t.textContent=lb;
  });
  axisTitle(c.g,'x=A cos ω t',2280,220,12,true,'y-axis-title');
  axisTitle(c.g,'t',2469,385,15,false,'x-axis-title');
})();

// ---------------- Fig 3 ----------------
(function(){
  const c=chart('figure-3-momentum-chart',{x:2308,y:440,w:320,h:258},[0,50],[-15,15],fig3XTicks,fig3YTicks,f0,f0,11,false);
  const colors=['#111','#e0261f','#3b3fb5'], types=['sq','c','tri'];
  function shapeAt(ph){
    for(let i=0;i<fig3Phase.length-1;i++){
      if(ph>=fig3Phase[i]&&ph<=fig3Phase[i+1]){const f=(ph-fig3Phase[i])/(fig3Phase[i+1]-fig3Phase[i]);return fig3Shape[i]+f*(fig3Shape[i+1]-fig3Shape[i]);}
    }
    return 0;
  }
  for(let s=2;s>=0;s--){
    const pts=[];
    for(let t=0;t<=50;t+=0.08){
      const ph=(t/fig3Period[s])%1; const v=shapeAt(ph);
      pts.push([c.sx(t),c.sy(v>=0?v*fig3Peak[s]:-v*fig3Trough[s])]);
    }
    const p=mk('path',{d:smooth(pts,false),fill:'none',stroke:colors[s],'stroke-width':s===0?4:2.5},c.g);
    
    for(let i=0;i<pts.length;i+=4){const m=marker(c.g,types[s],pts[i][0],pts[i][1],2.2,colors[s]); }
  }
  fig3Labels.forEach((lb,i)=>{
    const m=marker(c.g,types[i],2581,449+i*15,3,colors[i]); 
    const t=mk('text',{x:2593,y:453+i*15,'font-size':12,fill:'#222'},c.g);  t.textContent=lb;
  });
  axisTitle(c.g,'p',2280,570,13,true,'y-axis-title');
  axisTitle(c.g,'t',2469,737,15,false,'x-axis-title');
})();

// ---------------- Fig 4 ----------------
(function(){
  const c=chart('figure-4-phase-space-chart',{x:2308,y:805,w:325,h:240},[-11.56,11.5],[-10.75,11.1],fig4Ticks,fig4Ticks,f0,f0,11,false);
  const sets=[[fig4A10X,fig4A10P,'#3b3fb5',6,'A=10'],[fig4A5X,fig4A5P,'#e0261f',5,'A=5'],[fig4A1X,fig4A1P,'#111',5,'A=1']];
  sets.forEach(s=>{
    const pts=loop(s[0],s[1]).map(q=>[c.sx(q[0]),c.sy(q[1])]);
    const p=mk('path',{d:smooth(pts,true),fill:'none',stroke:s[2],'stroke-width':s[3]},c.g);
    
  });
  const colors=['#111','#e0261f','#3b3fb5'], types=['sq','c','tri'];
  fig4Labels.forEach((lb,i)=>{
    const m=marker(c.g,types[i],2330,830+i*14.5,3,colors[i]); 
    const t=mk('text',{x:2345,y:834+i*14.5,'font-size':12,fill:'#222'},c.g);  t.textContent=lb;
  });
  axisTitle(c.g,'p',2278,927,13,true,'y-axis-title');
  axisTitle(c.g,'x',2471,1084,13,false,'x-axis-title');
})();

// ---------------- Fig 5 ----------------
(function(){
  const c=chart('figure-5-time-series-chart',{x:2812,y:94,w:310,h:249},[0,10],[-0.8,1.2],fig5XTicks,fig5YTicks,f0,f1,11,false);
  fig5Tx.forEach((t,i)=>{const m=marker(c.g,'sq',c.sx(t),c.sy(fig5X[i]),3,'#111'); });
  fig5Tp.forEach((t,i)=>{const m=marker(c.g,'c',c.sx(t),c.sy(fig5P[i]),3,'#e0261f'); });
  let m=marker(c.g,'sq',3080,104,3.2,'#111'); 
  let t=mk('text',{x:3092,y:109,'font-size':13,fill:'#222'},c.g);  t.textContent='x';
  m=marker(c.g,'c',3080,122,3.2,'#e0261f'); 
  t=mk('text',{x:3092,y:127,'font-size':13,fill:'#222'},c.g);  t.textContent='p';
  axisTitle(c.g,'x, p',2778,220,13,true,'y-axis-title');
  axisTitle(c.g,'t',2967,384,15,false,'x-axis-title');
})();

// ---------------- Fig 6 ----------------
(function(){
  const c=chart('figure-6-phase-chart',{x:2805,y:454,w:317,h:256},[-0.8,1.2],[-0.6,0.6],fig6XTicks,fig6YTicks,f1,f1,11,false);
  fig6X.forEach((x,i)=>{const m=marker(c.g,'c',c.sx(x),c.sy(fig6P[i]),3.3,'#3a3fc0'); });
  axisTitle(c.g,'p',2770,582,13,true,'y-axis-title');
  axisTitle(c.g,'X',2964,752,15,false,'x-axis-title');
})();

// ---------------- Fig 7 ----------------
(function(){
  const c=chart('figure-7-quantum-phase-chart',{x:3213,y:87,w:318,h:258},[-9.1,4],[-2.77,2.8],fig7XTicks,fig7YTicks,f0,f1,11,false);
  const colors=['#111','#e0261f','#3b3fb5','#8d3fd0','#7a1414'];
  const sets=[[fig7N4X,fig7N4P,4],[fig7N3X,fig7N3P,3],[fig7N2X,fig7N2P,2],[fig7N1X,fig7N1P,1],[fig7N0X,fig7N0P,0]];
  sets.forEach(s=>{
    const pts=loop(s[0],s[1]).map(q=>[c.sx(q[0]),c.sy(q[1])]);
    const p=mk('path',{d:smooth(pts,true),fill:'none',stroke:colors[s[2]],'stroke-width':s[2]===0?5:7},c.g);
    
  });
  fig7Labels.forEach((lb,i)=>{
    const l=mk('line',{x1:3226,x2:3250,y1:103+i*16.2,y2:103+i*16.2,stroke:'#888','stroke-width':1},c.g); 
    const m=marker(c.g,'c',3238,103+i*16.2,3,colors[i]); 
    const t=mk('text',{x:3257,y:108+i*16.2,'font-size':13,fill:colors[i]},c.g);  t.textContent=lb;
  });
  axisTitle(c.g,'p',3181,216,13,true,'y-axis-title');
  axisTitle(c.g,'x',3373,383,13,false,'x-axis-title');
})();

// ---------------- Table A1 ----------------
(function(){
  const host=document.getElementById('tableA1');
  const colX=[3666,3775,3907,4033,4156,4271,4390];
  tableA1Header.forEach((h,j)=>{
    const d=document.createElement('div');
    
    
    d.className='tb'; d.style.left=colX[j]+'px'; d.style.top='947px'; d.style.fontStyle=j>0&&j<7?'italic':'normal';
    d.innerHTML=h; host.appendChild(d);
  });
  tableA1Rows.forEach((r,i)=>{
    r.forEach((v,j)=>{
      const d=document.createElement('div');
      
      
      d.className='tb'; d.style.left=colX[j]+'px'; d.style.top=(973+i*12.9)+'px';
      d.textContent=v; host.appendChild(d);
    });
  });
})();
</script>
</body></html>
